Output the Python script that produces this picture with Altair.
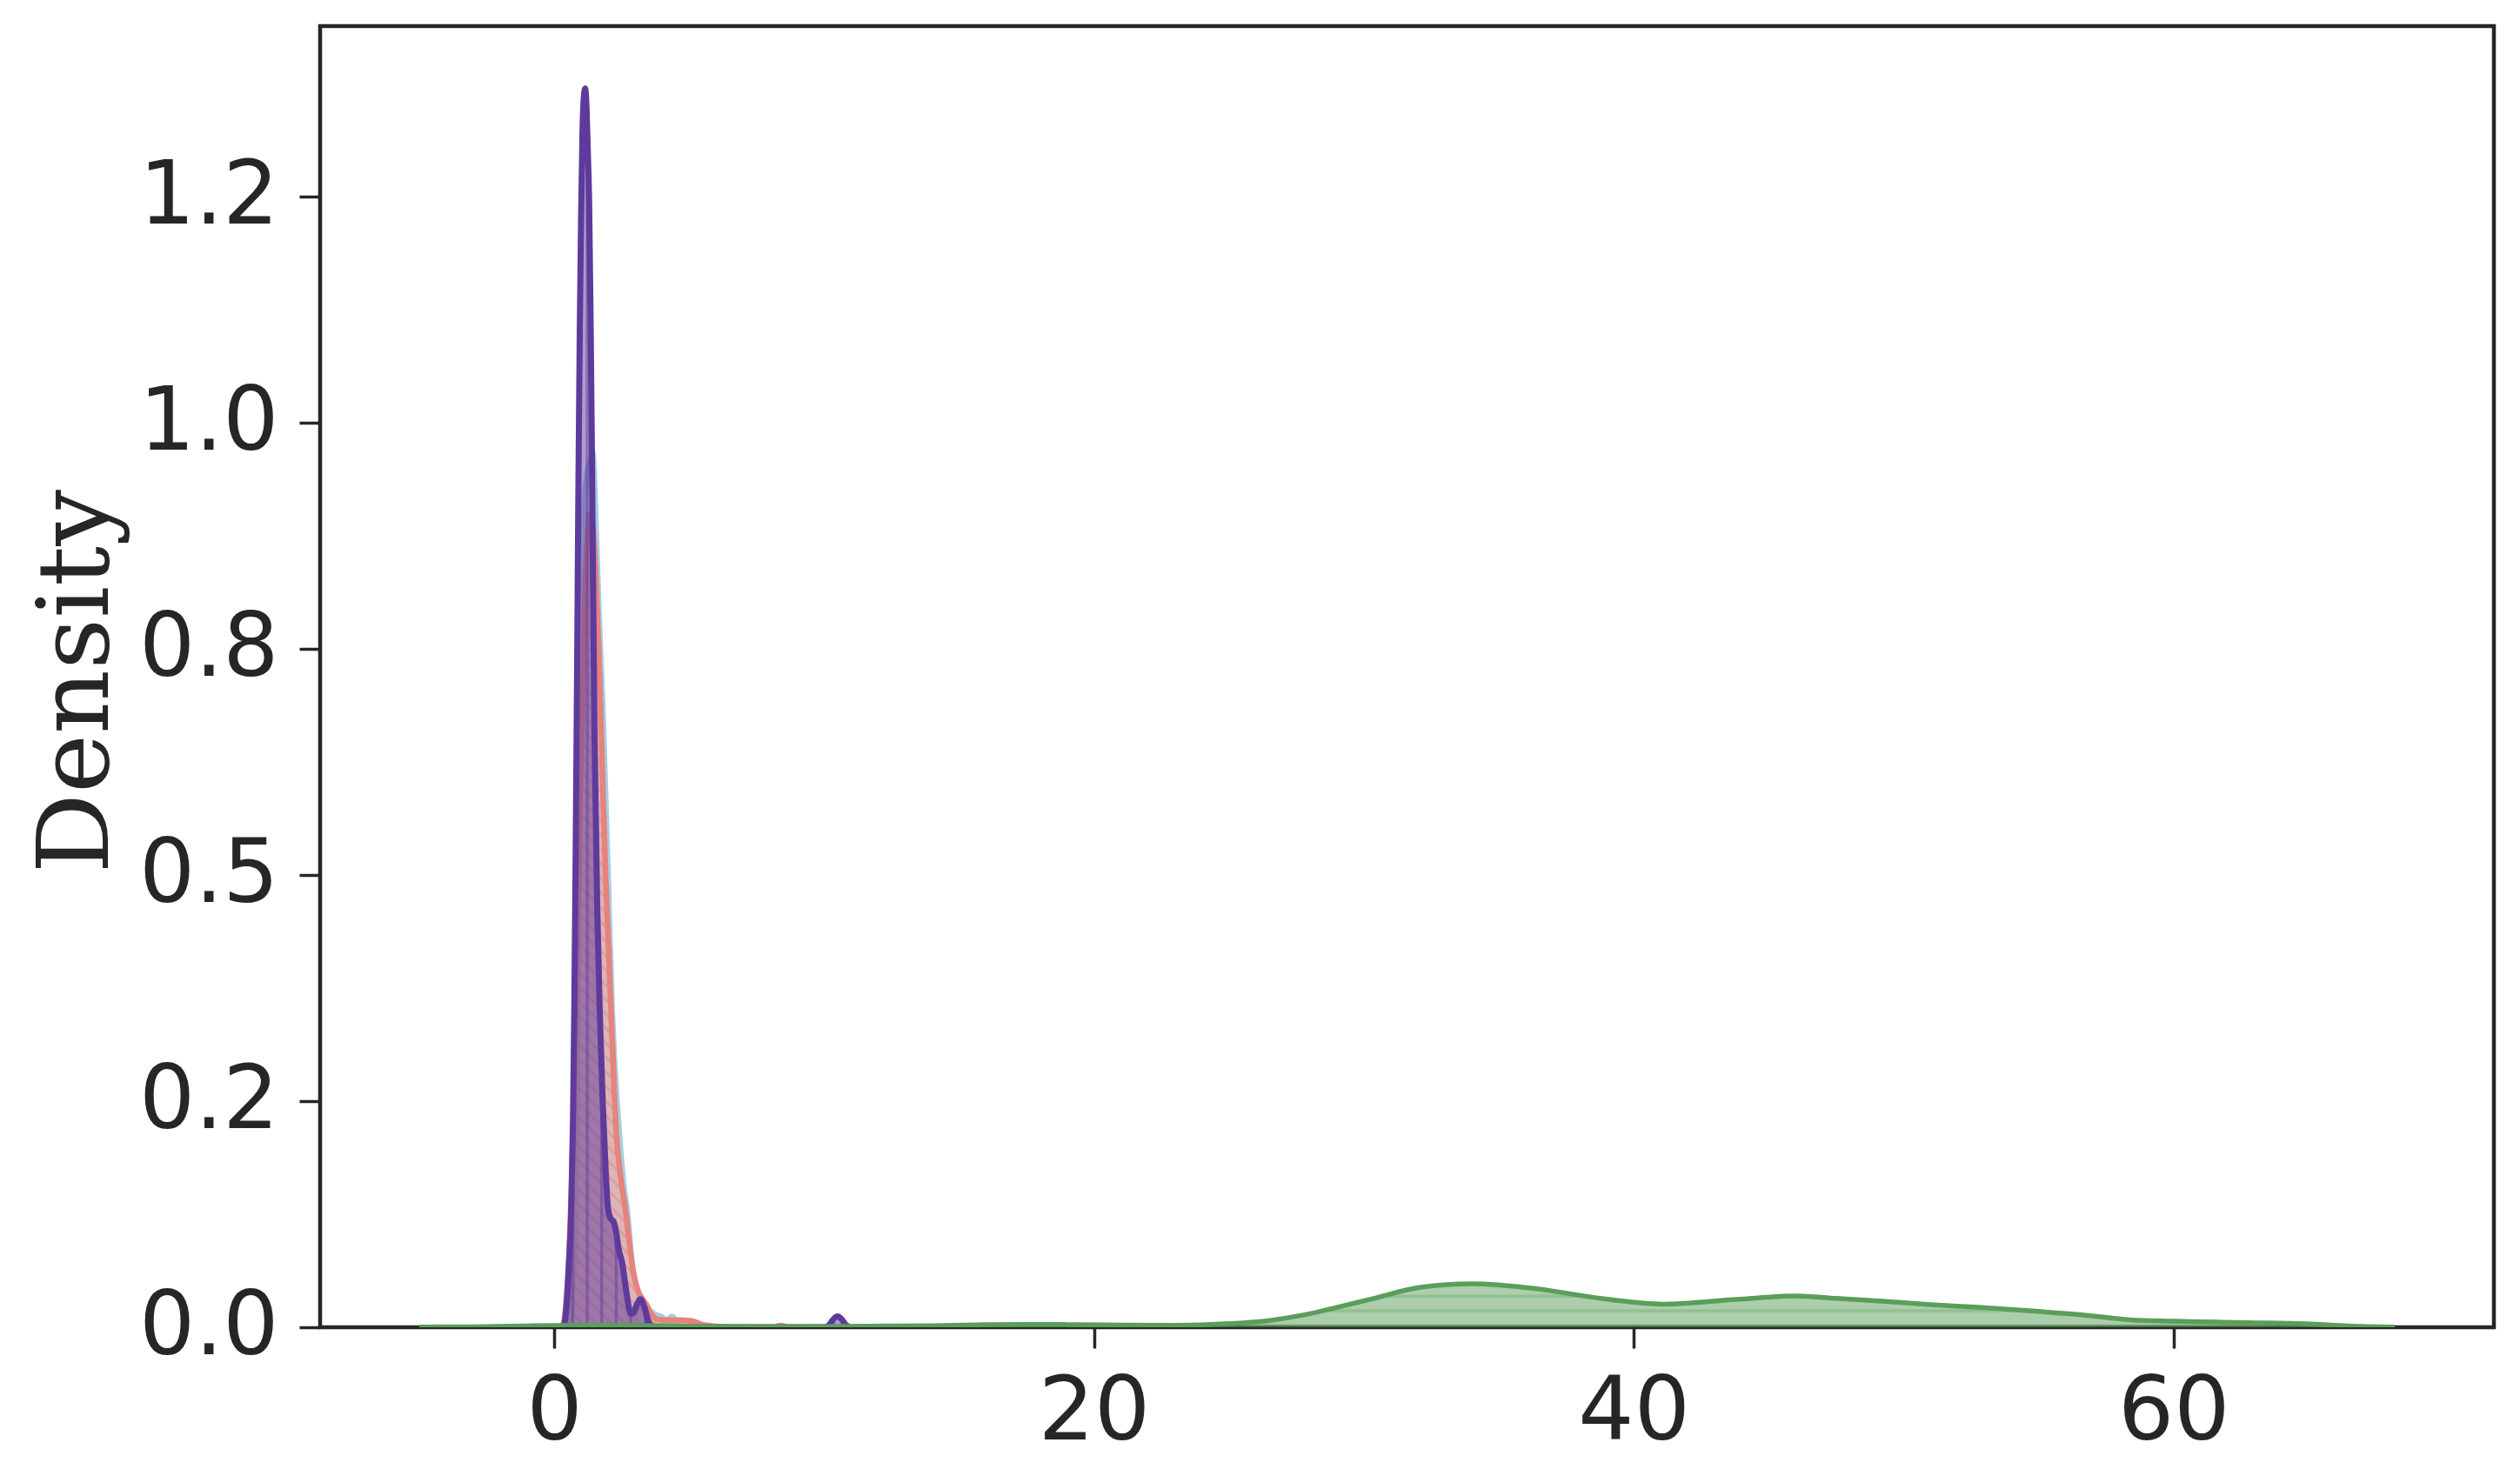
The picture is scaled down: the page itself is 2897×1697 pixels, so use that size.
import altair as alt
import numpy as np
import pandas as pd

# ---- data (x value, density) ----
purple_x = [0.0, 0.35, 0.45, 0.55, 0.63, 0.7, 0.75, 0.8, 0.85, 0.9, 0.95, 1.0, 1.05, 1.1, 1.15, 1.2,
            1.25, 1.3, 1.35, 1.4, 1.45, 1.5, 1.6, 1.7, 1.8, 1.9, 2.0, 2.1, 2.2, 2.3, 2.4, 2.51, 2.65,
            2.75, 2.84, 2.95, 3.05, 3.2, 3.35, 3.5, 3.65, 3.9, 10.0, 10.2, 10.35, 10.5, 10.65, 10.8, 11.0, 12.0]
purple_y = [0.0, 0.002, 0.02, 0.07, 0.124, 0.23, 0.36, 0.53, 0.72, 0.93, 1.10, 1.23, 1.32, 1.36, 1.37, 1.35,
            1.30, 1.24, 1.12, 0.97, 0.80, 0.65, 0.46, 0.34, 0.25, 0.18, 0.13, 0.12, 0.117, 0.105, 0.085, 0.073, 0.045,
            0.025, 0.015, 0.016, 0.024, 0.031, 0.022, 0.006, 0.001, 0.0, 0.0, 0.003, 0.009, 0.012, 0.009, 0.003, 0.0, 0.0]

red_x = [0.0, 0.3, 0.36, 0.45, 0.55, 0.65, 0.75, 0.85, 0.95, 1.06, 1.15, 1.25, 1.33, 1.42, 1.5, 1.6, 1.71,
         1.81, 1.92, 2.03, 2.15, 2.3, 2.45, 2.67, 2.8, 2.94, 3.1, 3.25, 3.42, 3.6, 3.8, 4.2, 4.6, 5.1, 5.5,
         6.0, 6.5, 8.1, 8.4, 8.7, 10.0]
red_y = [0.0, 0.0, 0.005, 0.03, 0.08, 0.16, 0.28, 0.43, 0.58, 0.70, 0.82, 0.88, 0.90, 0.89, 0.86, 0.79, 0.70,
         0.59, 0.49, 0.41, 0.32, 0.217, 0.17, 0.124, 0.09, 0.06, 0.041, 0.032, 0.025, 0.015, 0.009, 0.008, 0.008, 0.007, 0.003,
         0.001, 0.0, 0.0, 0.002, 0.0, 0.0]

blue_x = [0.0, 0.5, 0.6, 0.7, 0.79, 0.85, 0.9, 0.95, 1.0, 1.06, 1.12, 1.2, 1.3, 1.44, 1.49, 1.55, 1.65, 1.81,
          2.0, 2.14, 2.41, 2.57, 2.73, 2.89, 3.1, 3.3, 3.5, 3.7, 3.96, 4.15, 4.38, 4.55, 4.75, 6.0]
blue_y = [0.0, 0.0, 0.01, 0.05, 0.124, 0.25, 0.42, 0.58, 0.70, 0.82, 0.91, 0.94, 0.955, 0.967, 0.94, 0.89, 0.80, 0.68,
          0.50, 0.36, 0.217, 0.16, 0.124, 0.07, 0.041, 0.026, 0.02, 0.015, 0.012, 0.008, 0.012, 0.004, 0.0, 0.0]

green_x = [-5.0, -3.0, -1.0, 0.0, 1.0, 2.0, 3.0, 5.0, 8.0, 11.0, 14.0, 16.0, 17.5, 19.0, 21.0, 23.0, 25.0,
           26.5, 27.8, 29.0, 30.3, 32.1, 34.0, 36.4, 38.9, 41.1, 43.8, 46.0, 47.5, 49.2, 51.0, 52.9,
           55.0, 56.6, 58.5, 60.0, 62.8, 64.9, 66.5, 68.2]
green_y = [0.0002, 0.0006, 0.0015, 0.002, 0.0025, 0.0025, 0.002, 0.0012, 0.0008, 0.001, 0.0018, 0.0028, 0.0032,
           0.003, 0.0025, 0.0022, 0.004, 0.0075, 0.0138, 0.022, 0.0314, 0.0442, 0.048, 0.0426, 0.0314, 0.0256,
           0.0308, 0.0346, 0.032, 0.0288, 0.025, 0.0218, 0.0175, 0.0138, 0.008, 0.0067, 0.0051, 0.0038, 0.0015, 0.0003]

x_ticks = [0, 20, 40, 60]
y_ticks = [0, 0.25, 0.5, 0.75, 1.0, 1.25]
y_tick_labels = ["0.0", "0.2", "0.5", "0.8", "1.0", "1.2"]

# ---- styling ----
PLOT_W, PLOT_H = 2499, 1496
X_DOMAIN = [-8.67, 71.87]
Y_DOMAIN = [0, 1.439]
INK = "#262626"
COLORS = {"blue": "#a6cee3", "red": "#e5837c", "purple": "#5e3a9c", "green": "#5a9e5a"}
HATCH_PX = 16.67  # hatch spacing in screen pixels

SX = PLOT_W / (X_DOMAIN[1] - X_DOMAIN[0])   # px per x unit
SY = PLOT_H / (Y_DOMAIN[1] - Y_DOMAIN[0])   # px per y unit


def runs(mask):
    """start/end indices of contiguous True runs."""
    idx = np.flatnonzero(mask)
    if len(idx) == 0:
        return []
    breaks = np.flatnonzero(np.diff(idx) > 1)
    starts = np.concatenate([[idx[0]], idx[breaks + 1]])
    ends = np.concatenate([idx[breaks], [idx[-1]]])
    return list(zip(starts, ends))


def hatch_vertical(xv, yv, x0):
    xv, yv = np.asarray(xv), np.asarray(yv)
    step = HATCH_PX / SX
    k0 = int(np.floor((xv.min() - x0) / step))
    k1 = int(np.ceil((xv.max() - x0) / step))
    rows = []
    for k in range(k0, k1 + 1):
        hx = x0 + k * step
        top = float(np.interp(hx, xv, yv))
        if top > 0.004:
            rows.append({"x": hx, "y": 0.0, "x2": hx, "y2": top})
    return pd.DataFrame(rows)


def hatch_horizontal(xv, yv, y0):
    xv, yv = np.asarray(xv), np.asarray(yv)
    fine = np.linspace(xv.min(), xv.max(), 6000)
    fy = np.interp(fine, xv, yv)
    step = HATCH_PX / SY
    rows = []
    lvl = y0
    while lvl < fy.max():
        for a, b in runs(fy > lvl):
            rows.append({"x": fine[a], "y": lvl, "x2": fine[b], "y2": lvl})
        lvl += step
    return pd.DataFrame(rows)


def hatch_diagonal(xv, yv, c0):
    """'\\' hatch lines (45 deg on screen) clipped to the area under the curve."""
    xv, yv = np.asarray(xv), np.asarray(yv)
    fine = np.linspace(xv.min(), xv.max(), 20000)
    fy = np.interp(fine, xv, yv)
    px = fine * SX
    rows = []
    cmax = px.max() + fy.max() * SY
    c = c0 + np.floor((px.min() - c0) / HATCH_PX) * HATCH_PX
    while c <= cmax:
        ly = (c - px) / SY
        for a, b in runs((ly >= 0) & (ly <= fy) & (fy > 0.01)):
            if b > a:
                rows.append({"x": fine[a], "y": ly[a], "x2": fine[b], "y2": ly[b]})
        c += HATCH_PX
    return pd.DataFrame(rows)


label_expr = " : ".join(
    [f"abs(datum.value - {v}) < 1e-6 ? '{t}'" for v, t in zip(y_ticks, y_tick_labels)]
) + " : ''"

xs = alt.Scale(domain=X_DOMAIN, nice=False, zero=False)
ys = alt.Scale(domain=Y_DOMAIN, nice=False, zero=False)

x_axis = alt.Axis(values=x_ticks, format="d", title=None, grid=False, domain=False,
                  tickSize=24, tickWidth=3.5, tickColor=INK,
                  labelFont="DejaVu Sans", labelFontSize=101, labelColor=INK, labelPadding=24,
                  labelFlush=False)
y_axis = alt.Axis(values=y_ticks, labelExpr=label_expr, title="Density", grid=False, domain=False,
                  tickSize=24, tickWidth=3.5, tickColor=INK,
                  labelFont="DejaVu Sans", labelFontSize=101, labelColor=INK, labelPadding=24,
                  titleFont="DejaVu Serif", titleFontSize=115, titleFontWeight="normal",
                  titleColor=INK, titleX=-221, titleY=753, labelFlush=False)


def enc(chart):
    return chart.encode(
        x=alt.X("x:Q", scale=xs, axis=x_axis),
        y=alt.Y("density:Q", scale=ys, axis=y_axis),
    )


def hatch_layer(df, color, opacity, width):
    return alt.Chart(df).mark_rule(color=color, opacity=opacity, strokeWidth=width, clip=True).encode(
        x=alt.X("x:Q", scale=xs, axis=x_axis),
        y=alt.Y("y:Q", scale=ys, axis=y_axis),
        x2="x2:Q", y2="y2:Q",
    )


layers = []
# blue
df = pd.DataFrame({"x": blue_x, "density": blue_y})
layers += [enc(alt.Chart(df).mark_area(interpolate="monotone", color=COLORS["blue"], opacity=0.5, clip=True)),
           enc(alt.Chart(df).mark_line(interpolate="monotone", color=COLORS["blue"], strokeWidth=6.5, clip=True))]
# red
df = pd.DataFrame({"x": red_x, "density": red_y})
layers += [enc(alt.Chart(df).mark_area(interpolate="monotone", color=COLORS["red"], opacity=0.5, clip=True)),
           hatch_layer(hatch_diagonal(red_x, red_y, 3.0), COLORS["red"], 0.45, 3),
           enc(alt.Chart(df).mark_line(interpolate="monotone", color=COLORS["red"], strokeWidth=6.5, clip=True))]
# purple
df = pd.DataFrame({"x": purple_x, "density": purple_y})
layers += [enc(alt.Chart(df).mark_area(interpolate="monotone", color=COLORS["purple"], opacity=0.5, clip=True)),
           hatch_layer(hatch_vertical(purple_x, purple_y, 1.2246), COLORS["purple"], 0.45, 3.5),
           enc(alt.Chart(df).mark_line(interpolate="monotone", color=COLORS["purple"], strokeWidth=7, clip=True))]
# green
df = pd.DataFrame({"x": green_x, "density": green_y})
layers += [enc(alt.Chart(df).mark_area(interpolate="monotone", color=COLORS["green"], opacity=0.5, clip=True)),
           hatch_layer(hatch_horizontal(green_x, green_y, 2.3 / SY), COLORS["green"], 0.3, 3.5),
           enc(alt.Chart(df).mark_line(interpolate="monotone", color=COLORS["green"], strokeWidth=5.5, clip=True))]

chart = alt.layer(*layers).properties(
    width=PLOT_W, height=PLOT_H,
    padding={"left": 360, "top": 22, "right": 22, "bottom": 163},
    autosize=alt.AutoSizeParams(type="none"),
).configure(background="white").configure_view(stroke=INK, strokeWidth=4.5)

chart.save("out.html", embed_options={"renderer": "svg", "actions": False})
